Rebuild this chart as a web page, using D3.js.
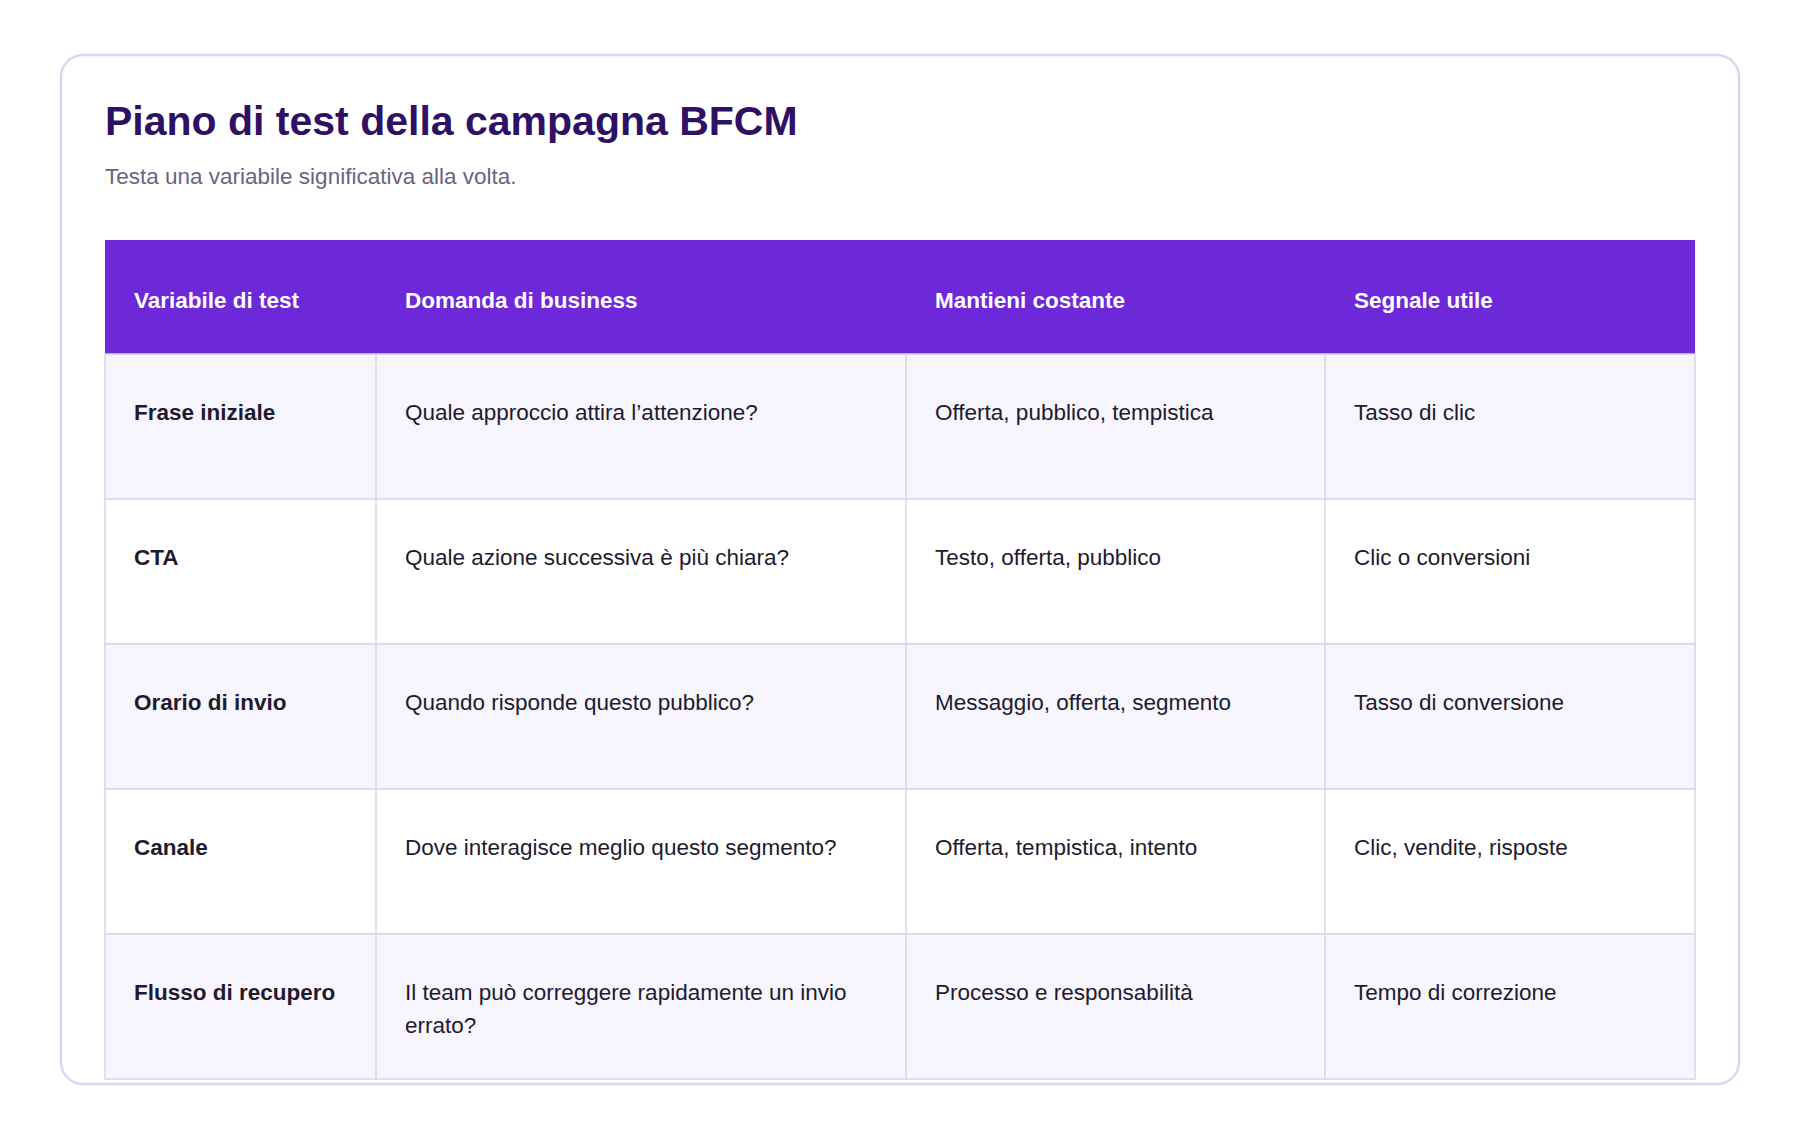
<!DOCTYPE html>
<html><head><meta charset="utf-8">
<script src="https://cdn.jsdelivr.net/npm/d3@7"></script>
<style>body{margin:0;background:#fff;font-family:"Liberation Sans",Arial,sans-serif;}</style>
</head><body>
<script>
var columns = ["Variabile di test", "Domanda di business", "Mantieni costante", "Segnale utile"];
var variables = ["Frase iniziale", "CTA", "Orario di invio", "Canale", "Flusso di recupero"];
var questions = ["Quale approccio attira l’attenzione?", "Quale azione successiva è più chiara?", "Quando risponde questo pubblico?", "Dove interagisce meglio questo segmento?", "Il team può correggere rapidamente un invio errato?"];
var constants = ["Offerta, pubblico, tempistica", "Testo, offerta, pubblico", "Messaggio, offerta, segmento", "Offerta, tempistica, intento", "Processo e responsabilità"];
var signals = ["Tasso di clic", "Clic o conversioni", "Tasso di conversione", "Clic, vendite, risposte", "Tempo di correzione"];

var W = 1800, H = 1140;
var svg = d3.select("body").append("svg").attr("width", W).attr("height", H);

//---------- card
svg.append("rect").attr("x", 61).attr("y", 55).attr("width", 1678).attr("height", 1029)
    .attr("rx", 22).attr("fill", "#fff").attr("stroke", "#dcd7ec").attr("stroke-width", 2.5);
svg.append("text").attr("x", 105).attr("y", 135).attr("font-size", 41).attr("font-weight", "bold")
    .attr("fill", "#2e1065").text("Piano di test della campagna BFCM");
svg.append("text").attr("x", 105).attr("y", 184).attr("font-size", 22.5)
    .attr("fill", "#6b6480").text("Testa una variabile significativa alla volta.");

//---------- table
var colEdges = [105, 376, 906, 1325, 1695];
var x = d3.scaleOrdinal().domain(columns).range(colEdges.slice(0, 4));
var rows = variables.map(function (v, i) { return [v, questions[i], constants[i], signals[i]]; });
var headerTop = 240, headerH = 114;
var y = d3.scaleBand().domain(d3.range(rows.length)).range([headerTop + headerH, 1079]);

svg.append("rect").attr("x", colEdges[0]).attr("y", headerTop).attr("width", colEdges[4] - colEdges[0])
    .attr("height", headerH).attr("fill", "#6d28d9");
svg.selectAll(".hd").data(columns).enter().append("text")
    .attr("x", function (d) { return x(d) + 29; }).attr("y", headerTop + 68)
    .attr("font-size", 22.5).attr("font-weight", "bold").attr("fill", "#fff").text(function (d) { return d; });

var g = svg.selectAll(".row").data(rows).enter().append("g")
    .attr("transform", function (d, i) { return "translate(0," + y(i) + ")"; });
g.append("rect").attr("x", colEdges[0]).attr("width", colEdges[4] - colEdges[0]).attr("height", y.bandwidth())
    .attr("fill", function (d, i) { return i % 2 === 0 ? "#f7f5fe" : "#fff"; })
    .attr("stroke", "#d9d4ea").attr("stroke-width", 1.5);
g.selectAll("line").data(colEdges.slice(1, 4)).enter().append("line")
    .attr("x1", function (d) { return d; }).attr("x2", function (d) { return d; })
    .attr("y1", 0).attr("y2", y.bandwidth()).attr("stroke", "#d9d4ea").attr("stroke-width", 1.5);

g.each(function (row) {
    var gg = d3.select(this);
    row.forEach(function (txt, c) {
        var t = gg.append("text").attr("x", colEdges[c] + 29).attr("y", 66)
            .attr("font-size", 22.5).attr("fill", "#1f1a2e")
            .attr("font-weight", c === 0 ? "bold" : "normal");
        var maxW = colEdges[c + 1] - colEdges[c] - 40;
        var words = txt.split(" "), line = [], lineNo = 0;
        var span = t.append("tspan").attr("x", colEdges[c] + 29).attr("dy", 0);
        words.forEach(function (w) {
            line.push(w);
            span.text(line.join(" "));
            if (span.node().getComputedTextLength() > maxW && line.length > 1) {
                line.pop();
                span.text(line.join(" "));
                line = [w];
                lineNo++;
                span = t.append("tspan").attr("x", colEdges[c] + 29).attr("dy", 33).text(w);
            }
        });
    });
});
</script>
</body></html>
